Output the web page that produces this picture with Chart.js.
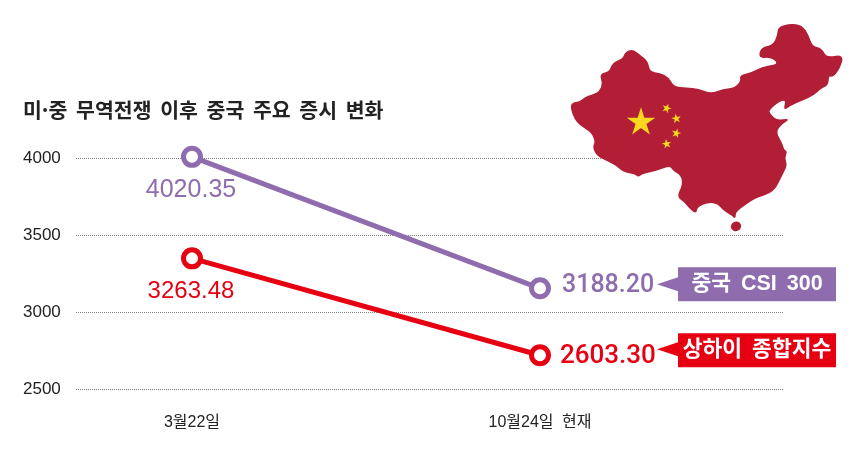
<!DOCTYPE html>
<html lang="ko"><head><meta charset="utf-8">
<style>html,body{margin:0;padding:0;background:#fff}#w{width:860px;height:451px}</style>
<script src="https://cdn.jsdelivr.net/npm/chart.js@4/dist/chart.umd.min.js"></script>
</head><body><div id="w"><canvas id="c"></canvas></div>
<script>
const titleText = '미·중 무역전쟁 이후 중국 주요 증시 변화';
const categories = ['3월22일', '10월24일 현재'];
const yTicks = [2500, 3000, 3500, 4000];
const csiValues = [4008, 3156];
const shValues = [3350, 2722];
const csiLabels = ['4020.35', '3188.20'];
const shLabels = ['3263.48', '2603.30'];
const csiName = '중국 CSI 300';
const shName = '상하이 종합지수';
const PURPLE = '#8e6cae', RED = '#e60012', MAP = '#b21e36', STAR = '#f8d81c';
const FONT = '"Liberation Sans","Noto Sans CJK KR",sans-serif';
const KFONT = '"Noto Sans CJK KR","Liberation Sans",sans-serif';

const mapOutline = [35,265,60,262,75,248,100,240,120,230,130,205,120,178,150,172,158,145,190,132,197,112,218,105,240,122,262,140,268,172,300,176,325,188,340,216,380,220,415,222,452,238,490,224,525,220,545,198,540,182,575,175,605,158,650,150,652,138,630,125,597,128,605,98,640,92,655,60,655,38,690,28,725,32,745,62,755,95,785,102,798,130,850,120,838,160,818,185,805,180,803,210,780,220,760,240,725,255,690,270,672,285,680,255,660,255,625,285,628,297,650,318,688,312,665,325,645,350,665,385,670,405,680,410,672,430,680,450,665,480,640,530,590,545,560,565,525,590,525,610,518,600,490,585,475,565,445,560,410,575,408,595,385,575,375,560,352,545,370,510,365,480,340,465,330,450,290,465,245,475,235,485,225,475,190,470,170,450,140,435,110,420,100,395,108,380,95,350,60,330,45,310,35,285];
const stars = [[243,322,45,-90],[320,280,15,-70],[349,311,15,-100],[349,355,15,-75],[320,387,15,-100]];

const spacingPlugin = {
  id: 'wordGap',
  beforeDraw(chart) { chart.ctx.wordSpacing = '4px'; }
};

const mapPlugin = {
  id: 'mapDecor',
  beforeDatasetsDraw(chart) {
    const g = chart.ctx, X = v => 560 + v / 3, Y = v => 15 + v / 3;
    g.save();
    g.fillStyle = MAP;
    g.strokeStyle = MAP;
    g.lineWidth = 1.5;
    g.lineJoin = 'round';
    g.beginPath();
    const n = mapOutline.length;
    for (let i = 0; i < n; i += 2) {
      const x = X(mapOutline[i]), y = Y(mapOutline[i + 1]);
      const nx = X(mapOutline[(i + 2) % n]), ny = Y(mapOutline[(i + 3) % n]);
      const mx = (x + nx) / 2, my = (y + ny) / 2;
      if (i === 0) g.moveTo(mx, my);
      else g.quadraticCurveTo(x, y, mx, my);
    }
    g.quadraticCurveTo(X(mapOutline[0]), Y(mapOutline[1]), (X(mapOutline[0]) + X(mapOutline[2])) / 2, (Y(mapOutline[1]) + Y(mapOutline[3])) / 2);
    g.closePath(); g.fill(); g.stroke();
    g.beginPath(); g.ellipse(X(528), Y(634), 5.2, 4.8, -0.4, 0, 7); g.fill();
    g.fillStyle = STAR;
    for (const [cx, cy, r, rot] of stars) {
      g.beginPath();
      for (let k = 0; k < 10; k++) {
        const rr = (k % 2 ? 0.382 : 1) * r / 3, a = (rot + k * 36) * Math.PI / 180;
        const x = X(cx) + rr * Math.cos(a), y = Y(cy) + rr * Math.sin(a);
        k ? g.lineTo(x, y) : g.moveTo(x, y);
      }
      g.closePath(); g.fill();
    }
    g.restore();
  }
};

const labelPlugin = {
  id: 'valueLabels',
  afterDatasetsDraw(chart) {
    const g = chart.ctx;
    g.save();
    const rows = [
      { ds: 0, col: PURPLE, labels: csiLabels, name: csiName, size: 21.5, s0: 25, s1: 25, dy0: 33, dx1: 22, dy1: -3, top: 21, tip: 17 },
      { ds: 1, col: RED, labels: shLabels, name: shName, size: 21.5, s0: 24, s1: 26, dy0: 33, dx1: 20, dy1: 1, top: 22, tip: 16 }
    ];
    for (const r of rows) {
      const pts = chart.getDatasetMeta(r.ds).data;
      g.fillStyle = r.col;
      g.textBaseline = 'middle';
      g.textAlign = 'center';
      g.font = r.s0 + 'px ' + FONT;
      g.fillText(r.labels[0], pts[0].x - 1, pts[0].y + r.dy0);
      g.font = '500 ' + r.s1 + 'px Roboto,' + FONT;
      g.textAlign = 'left';
      g.fillText(r.labels[1], pts[1].x + r.dx1, pts[1].y + r.dy1);
      const boxY = pts[1].y - r.top;
      g.beginPath();
      g.moveTo(657, boxY + r.tip); g.lineTo(678, boxY + r.tip - 7); g.lineTo(678, boxY);
      g.lineTo(836, boxY); g.lineTo(836, boxY + 34); g.lineTo(678, boxY + 34);
      g.lineTo(678, boxY + r.tip + 7); g.closePath(); g.fill();
      g.fillStyle = '#fff';
      g.textAlign = 'center';
      g.font = 'bold ' + r.size + 'px ' + FONT;
      g.fillText(r.name, 757, boxY + 17);
    }
    g.restore();
  }
};

const toXY = vals => vals.map((v, i) => ({ x: i, y: v }));
const ds = (label, vals, col) => ({
  label, data: toXY(vals), borderColor: col, backgroundColor: col,
  borderWidth: 5, pointRadius: 8.5, pointHoverRadius: 8.5,
  pointBorderWidth: 5, pointBackgroundColor: '#fff', pointBorderColor: col,
  tension: 0, clip: false
});

new Chart(document.getElementById('c'), {
  type: 'line',
  data: { datasets: [ds('중국 CSI 300', csiValues, PURPLE), ds('상하이 종합지수', shValues, RED)] },
  options: {
    responsive: true, maintainAspectRatio: false, animation: false,
    events: [],
    layout: { padding: { left: 23, right: 77, top: 98, bottom: 0 } },
    plugins: {
      legend: { display: false }, tooltip: { enabled: false },
      title: {
        display: true, text: titleText, align: 'start', color: '#222',
        font: { family: KFONT, size: 20.5, weight: 'bold' },
        padding: { top: 0, bottom: 35.5 }
      }
    },
    scales: {
      x: {
        type: 'linear', min: -1 / 3, max: 1.6983,
        afterBuildTicks(s) { s.ticks = categories.map((_, i) => ({ value: i })); },
        afterFit(s) { s.height = 61.5; },
        grid: { display: false }, border: { display: false },
        ticks: {
          callback: v => categories[v], color: '#222', padding: 15, maxRotation: 0,
          autoSkip: false, font: { family: FONT, size: 16 }
        }
      },
      y: {
        type: 'linear', min: 2500, max: 4000,
        afterBuildTicks(s) { s.ticks = yTicks.map(v => ({ value: v })); },
        afterFit(s) { s.width = 53; },
        border: { display: false, dash: [1, 1] },
        grid: { color: '#808080', lineWidth: 1, drawTicks: false },
        ticks: {
          crossAlign: 'far', color: '#222', padding: 0,
          callback: v => String(v),
          font: { family: FONT, size: 17 }
        }
      }
    }
  },
  plugins: [spacingPlugin, mapPlugin, labelPlugin]
});
</script></body></html>
